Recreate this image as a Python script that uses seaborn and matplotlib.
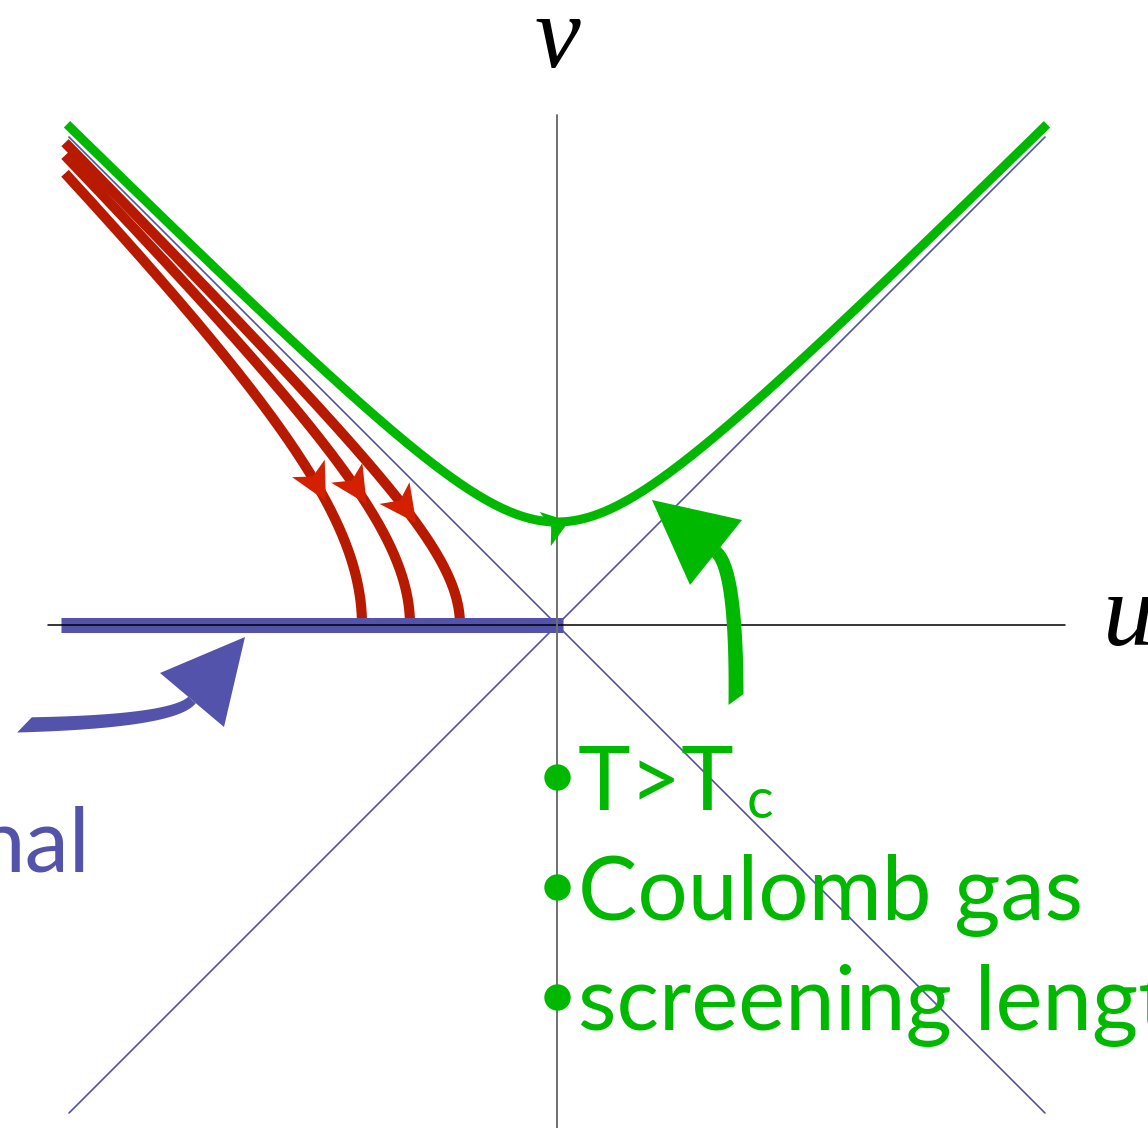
import numpy as np
import pandas as pd
import matplotlib
matplotlib.use("Agg")
import matplotlib.pyplot as plt
import seaborn as sns

# --- RG flow data (Kosterlitz-Thouless, v^2 - u^2 is conserved) ---
high_T_gap = 1.03                      # green trajectory: v at u = 0
low_T_endpoints = [1.95, 1.47, 0.97]   # red trajectories: |u| where they land on v = 0
u_edge = 4.92                          # trajectories start at u = -u_edge
green_edge = 4.90
red_arrow_v = [1.24, 1.21, 1.02]       # arrowhead positions along red flows
green_arrow_u = 0.12                   # arrowhead position along green flow
fixed_line = [-4.96, 0.06]             # line of fixed points on v = 0
diag_extent = 4.88                     # separatrices v = +/- u
bullet_v = [-1.52, -2.62, -3.72]
bullet_lines = ["T>T", "Coulomb gas", "screening length"]

GREEN = "#00B800"
RED = "#B81A00"
RED_HEAD = "#D22000"
BLUE = "#5353AB"

sns.set_style("white")
plt.rcParams["font.family"] = ["Lato", "DejaVu Sans"]

fig = plt.figure(figsize=(11.48, 11.28), dpi=100)
ax = fig.add_axes([0, 0, 1, 1])
ax.set_xlim(-5.57, 5.91)
ax.set_ylim(-5.03, 6.25)
ax.set_axis_off()

# build trajectories
frames = []
u = np.linspace(-green_edge, green_edge, 600)
frames.append(pd.DataFrame({"u": u, "v": np.sqrt(u**2 + high_T_gap**2), "flow": "high"}))
for i, c in enumerate(low_T_endpoints):
    vmax = np.sqrt(u_edge**2 - c**2)
    v = np.linspace(vmax, 0, 400)
    frames.append(pd.DataFrame({"u": -np.sqrt(c**2 + v**2), "v": v, "flow": f"low{i}"}))
flows = pd.concat(frames, ignore_index=True)

# separatrices
ax.plot([-diag_extent, diag_extent], [-diag_extent, diag_extent], color=BLUE, lw=1.2, zorder=1)
ax.plot([-diag_extent, diag_extent], [diag_extent, -diag_extent], color=BLUE, lw=1.2, zorder=1)

sns.lineplot(data=flows[flows.flow != "high"], x="u", y="v", hue="flow",
             palette={"low0": RED, "low1": RED, "low2": RED}, sort=False,
             estimator=None, linewidth=7.3, legend=False, ax=ax,
             solid_capstyle="butt", zorder=2)
sns.lineplot(data=flows[flows.flow == "high"], x="u", y="v", color=GREEN, sort=False,
             estimator=None, linewidth=6.5, legend=False, ax=ax,
             solid_capstyle="butt", zorder=2)
ax.set_axis_off()

ax.plot(fixed_line, [0, 0], color=BLUE, lw=10.8, solid_capstyle="butt", zorder=3)
ax.plot([-5.09, 5.08], [0, 0], color="black", lw=1.1, zorder=4)
ax.plot([0, 0], [-5.1, 5.1], color="#707070", lw=1.4, zorder=4)


def arrowhead(tip, ang, length, width, color, notch=0.25):
    d = np.array([np.cos(ang), np.sin(ang)])
    n = np.array([-d[1], d[0]])
    tip = np.asarray(tip)
    back = tip - length * d
    pts = np.array([tip, back + width / 2 * n, tip - (1 - notch) * length * d,
                    back - width / 2 * n])
    ax.fill(pts[:, 0], pts[:, 1], color=color, lw=0, zorder=5)


for c, v in zip(low_T_endpoints, red_arrow_v):
    uu = -np.sqrt(c**2 + v**2)
    # flow runs toward decreasing v: direction (du, dv) = (v/|u|, -1)
    ang = np.arctan2(-1.0, v / abs(uu))
    arrowhead((uu, v), ang, 0.37, 0.37, RED_HEAD)

gv = np.sqrt(green_arrow_u**2 + high_T_gap**2)
arrowhead((green_arrow_u, gv), np.deg2rad(18), 0.25, 0.36, GREEN)


def curved_arrow(p0, p1, p2, tip, corners, w0, w1, color, skew_left=0.0, skew_right=0.0):
    """Tapered quadratic-Bezier shaft from p0 to p2 plus a triangular head."""
    p0, p1, p2 = map(np.asarray, (p0, p1, p2))
    t = np.linspace(0, 1, 80)[:, None]
    B = (1 - t) ** 2 * p0 + 2 * (1 - t) * t * p1 + t ** 2 * p2
    dB = 2 * (1 - t) * (p1 - p0) + 2 * t * (p2 - p1)
    dB /= np.linalg.norm(dB, axis=1, keepdims=True)
    nB = np.column_stack([-dB[:, 1], dB[:, 0]])
    w = np.linspace(w0, w1, len(t))[:, None] / 2
    left = B + nB * w
    right = B - nB * w
    left[0] += dB[0] * skew_left
    right[0] += dB[0] * skew_right
    poly = np.vstack([left, right[::-1]])
    ax.fill(poly[:, 0], poly[:, 1], color=color, lw=0, zorder=5)
    head = np.array([tip, corners[0], corners[1]])
    ax.fill(head[:, 0], head[:, 1], color=color, lw=0, zorder=5)


curved_arrow((-5.40, -1.00), (-3.84, -0.97), (-3.65, -0.75), (-3.12, -0.12),
             [(-3.97, -0.48), (-3.33, -1.02)], 0.15, 0.10, BLUE, skew_left=0.15)
curved_arrow((1.79, -0.80), (1.80, 0.56), (1.59, 0.73), (0.95, 1.25),
             [(1.85, 1.05), (1.33, 0.40)], 0.15, 0.13, GREEN, skew_right=0.11)

# axis labels
ax.text(0, 5.58, "v", fontsize=74, family="Liberation Serif", style="italic",
        color="black", ha="center", va="baseline")
ax.text(5.46, -0.20, "u", fontsize=74, family="Liberation Serif", style="italic",
        color="black", ha="left", va="baseline")

# text annotations
ax.text(-4.67, -2.47, "nal", fontsize=64, color=BLUE, ha="right", va="baseline")

ax.plot([0] * len(bullet_v), bullet_v, "o", color=GREEN, ms=19, mew=0, zorder=6)
text_v = [b - 0.33 for b in bullet_v]
labels = []
for tv, s in zip(text_v, bullet_lines):
    labels.append(ax.text(0.21, tv, s, fontsize=64, color=GREEN, ha="left", va="baseline"))

fig.canvas.draw()
bb = labels[0].get_window_extent().transformed(ax.transData.inverted())
ax.text(bb.x1 + 0.12, text_v[0] - 0.08, "c", fontsize=40, color=GREEN, ha="left", va="baseline")

fig.savefig("out.png", dpi=100)
